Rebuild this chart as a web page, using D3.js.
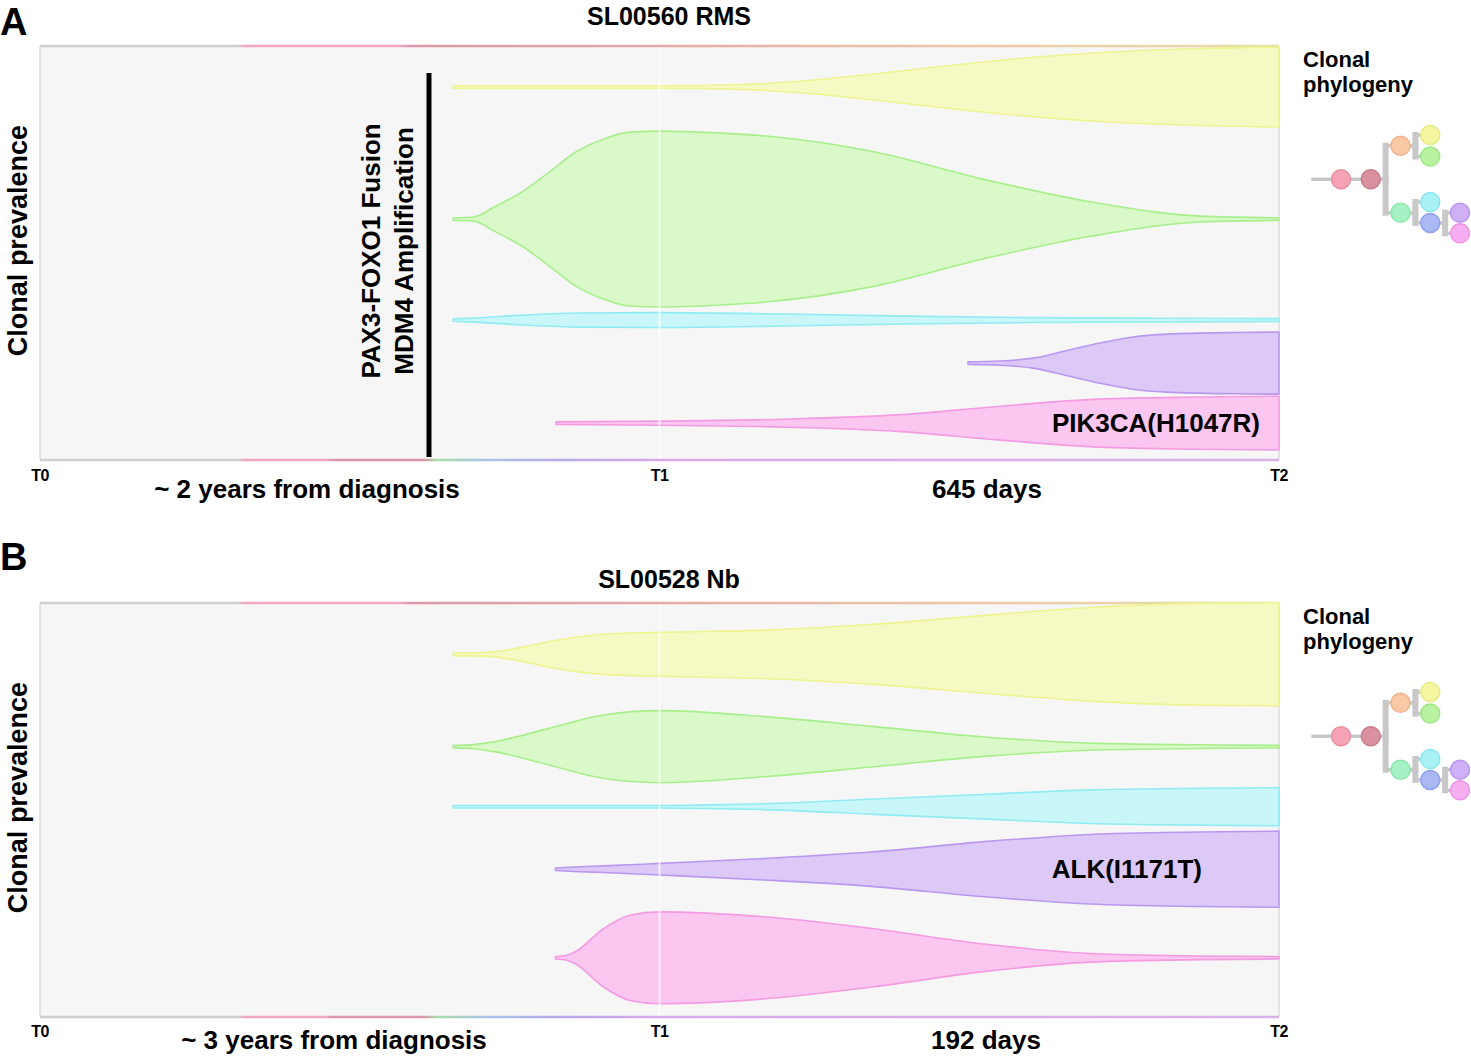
<!DOCTYPE html>
<html>
<head>
<meta charset="utf-8">
<script src="https://cdn.jsdelivr.net/npm/d3@7"></script>
<style>
  body { margin: 0; background: #fff; }
  svg { display: block; font-family: 'Liberation Sans', Arial, sans-serif; }
</style>
</head>
<body>
<div id="chart"></div>
<script>
// ---- data ----
var panelLetters = ['A', 'B']
var panelTitles = ['SL00560 RMS', 'SL00528 Nb']
var tickLabels = ['T0', 'T1', 'T2']
var tickTimes = [0, 1, 2]
var spanLabels = [
  ['~ 2 years from diagnosis', '645 days'],
  ['~ 3 years from diagnosis', '192 days']
]
var mutationLabels = ['PIK3CA(H1047R)', 'ALK(I1171T)']
var mutationClone = [4, 3]
var driverLabels = ['PAX3-FOXO1 Fusion', 'MDM4 Amplification']

// clones: yellow, green, cyan, purple, pink
var cloneFill = ['#f5f9c4', '#d9f9c9', '#c9f7f9', '#ddc9f7', '#fbc6f0']
var cloneStroke = ['#eef48e', '#a8ef8c', '#90ecf2', '#b997f0', '#f49be2']

// panel A: centre position (% of track) and prevalence (% of track) over time
var centersA = [9.9, 41.8, 66.2, 76.6, 91.1]
var timesA = [
  [0.667, 1.0, 1.136, 1.25, 1.346, 1.522, 1.698, 1.874, 2.0],
  [0.667, 0.70, 0.733, 0.78, 0.822, 0.865, 0.909, 0.952, 1.0, 1.1, 1.172, 1.348, 1.522, 1.698, 1.874, 2.0],
  [0.667, 0.70, 0.78, 0.87, 1.0, 1.2, 1.4, 1.6, 1.8, 2.0],
  [1.498, 1.55, 1.603, 1.658, 1.711, 1.764, 1.819, 1.926, 2.0],
  [0.833, 1.0, 1.2, 1.39, 1.55, 1.71, 1.87, 2.0]
]
var prevA = [
  [0.6, 0.6, 1.2, 3.4, 6.3, 12.1, 16.4, 18.6, 19.3],
  [0.6, 1.0, 5.8, 13.5, 22.7, 32.4, 38.6, 42.0, 42.5, 41.5, 40.1, 32.4, 19.3, 8.2, 1.4, 0.6],
  [0.6, 1.0, 2.4, 3.4, 3.6, 2.9, 1.9, 1.2, 0.9, 0.7],
  [0.6, 1.0, 2.4, 6.1, 9.7, 12.6, 14.0, 14.8, 15.0],
  [0.6, 1.0, 1.9, 4.1, 8.2, 11.6, 12.6, 13.0]
]

// panel B
var centersB = [12.4, 34.7, 49.2, 64.3, 85.7]
var timesB = [
  [0.667, 0.725, 0.77, 0.82, 0.909, 1.0, 1.17, 1.346, 1.52, 1.695, 1.871, 2.0],
  [0.667, 0.70, 0.733, 0.82, 0.909, 1.0, 1.17, 1.346, 1.52, 1.695, 1.87, 2.0],
  [0.667, 1.0, 1.1, 1.17, 1.346, 1.52, 1.695, 1.871, 2.0],
  [0.832, 0.87, 0.909, 1.0, 1.17, 1.346, 1.52, 1.695, 1.871, 2.0],
  [0.832, 0.85, 0.864, 0.909, 0.952, 1.0, 1.17, 1.346, 1.52, 1.695, 1.87, 2.0]
]
var prevB = [
  [0.6, 1.0, 2.9, 6.1, 9.7, 10.6, 11.7, 14.5, 18.7, 22.6, 24.6, 24.9],
  [0.6, 1.0, 2.4, 8.7, 15.3, 17.4, 14.5, 9.7, 4.8, 1.7, 0.9, 0.6],
  [0.6, 0.6, 1.0, 1.4, 3.7, 5.9, 8.1, 8.9, 9.2],
  [0.6, 1.2, 1.6, 2.8, 5.2, 8.4, 13.2, 16.8, 18.0, 18.4],
  [0.6, 1.2, 2.9, 14.0, 20.6, 22.2, 19.8, 14.0, 6.8, 2.1, 0.9, 0.6]
]

// clonal phylogeny (same tree in both panels)
var treeNodes = ['root', 'trunk', 'orange', 'yellow', 'green', 'mint', 'cyan', 'blue', 'purple', 'magenta']
var treeParent = [-1, 0, 1, 2, 2, 1, 5, 5, 7, 7]
var treeDepth = [0, 1, 2, 3, 3, 2, 3, 3, 4, 4]
var treeRow = [2.05, 2.05, 0.5, 0, 1, 3.6, 3.1, 4.07, 3.6, 4.55]
var treeFill = ['#f5a3b5', '#d9909f', '#f9c8a4', '#f4f7a0', '#b9f2a0', '#a6f2c4', '#a8f2f6', '#aab8f4', '#cfb0f6', '#f5aeef']
var treeStroke = ['#eb8ea2', '#c97c8c', '#f1b38c', '#e6ea86', '#9fe684', '#8be8ac', '#8ae6ee', '#8fa0ee', '#b898f0', '#ee94e6']

// ---- layout ----
var W = 1471, H = 1057
var plotH = 414
var panelTop = [46, 603]
var titleY = [25, 588]
var letterY = [35, 570]
var tickY = [435, 434]
var spanY = [452, 446]
var spanX = [[307, 987], [334, 986]]

var svg = d3.select('#chart').append('svg')
  .attr('width', W)
  .attr('height', H)

var x = d3.scaleLinear().domain([0, 2]).range([40, 1279])

// edge gradients
var defs = svg.append('defs')
function addGradient(id, stops) {
  var g = defs.append('linearGradient')
    .attr('id', id)
    .attr('gradientUnits', 'userSpaceOnUse')
    .attr('x1', x(0)).attr('x2', x(2)).attr('y1', 0).attr('y2', 0)
  stops.forEach(s => g.append('stop').attr('offset', s[0]).attr('stop-color', s[1]))
}
addGradient('edgeTop', [[0, '#cfcfcf'], [0.16, '#cfcfcf'], [0.165, '#f2a8ba'], [0.29, '#f2a8ba'],
  [0.3, '#dc98a8'], [0.5, '#e6aaa8'], [0.75, '#eec8a8'], [1, '#e6e0a8']])
addGradient('edgeBottom', [[0, '#cfcfcf'], [0.16, '#cfcfcf'], [0.165, '#f2a8ba'], [0.23, '#f2a8ba'],
  [0.235, '#dc98a8'], [0.31, '#dc98a8'], [0.32, '#a8dca8'], [0.36, '#a8c4e8'], [0.42, '#b8a8ec'],
  [0.5, '#d8a8ec'], [1, '#dcb0e8']])

var centersAll = [centersA, centersB]
var timesAll = [timesA, timesB]
var prevAll = [prevA, prevB]

panelTop.forEach((top, p) => {
  var g = svg.append('g')
  var y = d3.scaleLinear().domain([0, 100]).range([top, top + plotH])
  var w = d3.scaleLinear().domain([0, 100]).range([0, plotH])

  // panel letter + title
  g.append('text')
    .attr('x', 0).attr('y', letterY[p])
    .style('font-size', '38px').style('font-weight', 'bold')
    .text(panelLetters[p])
  g.append('text')
    .attr('x', 669).attr('y', titleY[p])
    .attr('text-anchor', 'middle')
    .style('font-size', '25px').style('font-weight', 'bold')
    .text(panelTitles[p])

  // background track
  g.append('rect')
    .attr('x', x(0)).attr('y', y(0))
    .attr('width', x(2) - x(0)).attr('height', plotH)
    .attr('rx', 2)
    .attr('fill', '#f6f6f6')
    .attr('stroke', '#dcdcdc')
    .attr('stroke-width', 1.5)
  g.append('line')
    .attr('x1', x(0)).attr('x2', x(2)).attr('y1', y(0)).attr('y2', y(0))
    .attr('stroke', 'url(#edgeTop)').attr('stroke-width', 2.5)
  g.append('line')
    .attr('x1', x(0)).attr('x2', x(2)).attr('y1', y(100)).attr('y2', y(100))
    .attr('stroke', 'url(#edgeBottom)').attr('stroke-width', 2.5)

  // clones
  centersAll[p].forEach((c, i) => {
    var pts = timesAll[p][i].map((t, j) => ({ t: t, v: prevAll[p][i][j] }))
    var area = d3.area()
      .x(d => x(d.t))
      .y0(d => y(c) - w(d.v) / 2)
      .y1(d => y(c) + w(d.v) / 2)
      .curve(d3.curveMonotoneX)
    g.append('path')
      .datum(pts)
      .attr('d', area)
      .attr('fill', cloneFill[i])
      .attr('stroke', cloneStroke[i])
      .attr('stroke-width', 1.6)
      .attr('stroke-linejoin', 'round')
  })

  // faint sample line at T1
  g.append('line')
    .attr('x1', x(1)).attr('x2', x(1)).attr('y1', y(0) + 1).attr('y2', y(100) - 1)
    .attr('stroke', '#ffffff').attr('stroke-opacity', 0.7).attr('stroke-width', 2)

  // tick labels
  tickTimes.forEach((t, i) => {
    g.append('text')
      .attr('x', x(t)).attr('y', top + tickY[p])
      .attr('text-anchor', 'middle')
      .style('font-size', '16px').style('font-weight', 'bold')
      .style('letter-spacing', '-0.5px')
      .text(tickLabels[i])
  })
  spanLabels[p].forEach((s, i) => {
    g.append('text')
      .attr('x', spanX[p][i]).attr('y', top + spanY[p])
      .attr('text-anchor', 'middle')
      .style('font-size', '26px').style('font-weight', 'bold')
      .text(s)
  })

  // y label
  g.append('text')
    .attr('transform', 'translate(27,' + y(47) + ') rotate(-90)')
    .attr('text-anchor', 'middle')
    .style('font-size', '27px').style('font-weight', 'bold')
    .text('Clonal prevalence')

  // mutation label
  var mc = mutationClone[p]
  g.append('text')
    .attr('x', 1260 - (p === 1 ? 58 : 0)).attr('y', y(centersAll[p][mc]) + 9)
    .attr('text-anchor', 'end')
    .style('font-size', '26px').style('font-weight', 'bold')
    .text(mutationLabels[p])

  // phylogeny
  var tx = d3.scaleLinear().domain([0, 4]).range([1341, 1460])
  var ty = d3.scaleLinear().domain([0, 1]).range([top + 89, top + 110.6])
  var tree = g.append('g')
  tree.append('text')
    .attr('x', 1303).attr('y', top + 21)
    .style('font-size', '22px').style('font-weight', 'bold')
    .text('Clonal')
  tree.append('text')
    .attr('x', 1303).attr('y', top + 46)
    .style('font-size', '22px').style('font-weight', 'bold')
    .text('phylogeny')

  tree.append('line')
    .attr('x1', tx(-1)).attr('x2', tx(0))
    .attr('y1', ty(treeRow[0])).attr('y2', ty(treeRow[0]))
    .attr('stroke', '#c8c8c8').attr('stroke-width', 3.5)
  treeNodes.forEach((n, i) => {
    var par = treeParent[i]
    if (par < 0) return
    var px = tx(treeDepth[par]), py = ty(treeRow[par])
    var cx = tx(treeDepth[i]), cy = ty(treeRow[i])
    var bx = treeNodes[par] !== 'root' ? tx(treeDepth[par] + 0.5) : px
    if (treeNodes[par] === 'root') {
      tree.append('line').attr('x1', px).attr('x2', cx).attr('y1', py).attr('y2', cy)
        .attr('stroke', '#c8c8c8').attr('stroke-width', 3.5)
      return
    }
    tree.append('line').attr('x1', px).attr('x2', bx).attr('y1', py).attr('y2', py)
      .attr('stroke', '#c8c8c8').attr('stroke-width', 3.5)
    tree.append('line').attr('x1', bx).attr('x2', bx).attr('y1', py).attr('y2', cy)
      .attr('stroke', '#c8c8c8').attr('stroke-width', 6).attr('stroke-linecap', 'square')
    tree.append('line').attr('x1', bx).attr('x2', cx).attr('y1', cy).attr('y2', cy)
      .attr('stroke', '#c8c8c8').attr('stroke-width', 3.5)
  })
  tree.selectAll('circle')
    .data(treeNodes)
    .enter()
    .append('circle')
    .attr('cx', (d, i) => tx(treeDepth[i]))
    .attr('cy', (d, i) => ty(treeRow[i]))
    .attr('r', 9.5)
    .attr('fill', (d, i) => treeFill[i])
    .attr('stroke', (d, i) => treeStroke[i])
    .attr('stroke-width', 1.5)
})

// driver annotation in panel A
var yA = d3.scaleLinear().domain([0, 100]).range([panelTop[0], panelTop[0] + plotH])
svg.append('line')
  .attr('x1', 429).attr('x2', 429)
  .attr('y1', yA(6.5)).attr('y2', yA(99.3))
  .attr('stroke', '#000').attr('stroke-width', 5)
driverLabels.forEach((s, i) => {
  svg.append('text')
    .attr('transform', 'translate(' + (380 + i * 33) + ',' + yA(49.5) + ') rotate(-90)')
    .attr('text-anchor', 'middle')
    .style('font-size', '26px').style('font-weight', 'bold')
    .text(s)
})
</script>
</body>
</html>
